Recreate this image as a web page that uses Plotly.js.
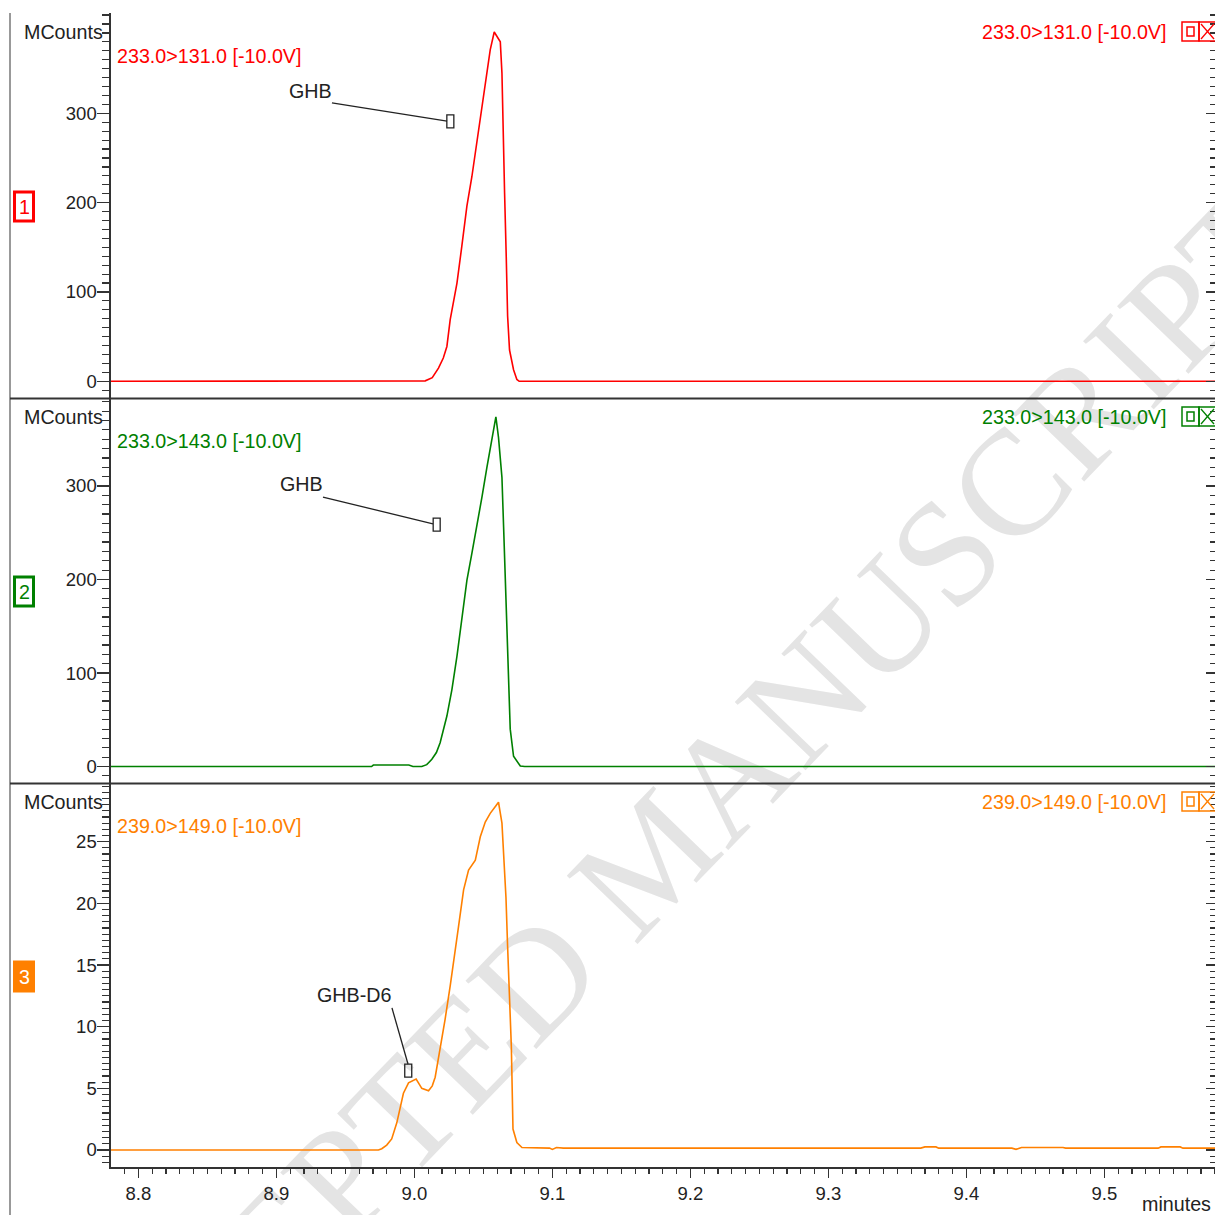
<!DOCTYPE html>
<html>
<head>
<meta charset="utf-8">
<script src="https://cdn.plot.ly/plotly-3.0.1.min.js"></script>
<style>html,body{margin:0;padding:0;background:#fff;}#chart{width:1215px;height:1215px;}</style>
</head>
<body>
<div id="chart"></div>
<script>
// ---------- data ----------
const transitionLabels = ["233.0>131.0 [-10.0V]", "233.0>143.0 [-10.0V]", "239.0>149.0 [-10.0V]"];
const panelNumbers = ["1", "2", "3"];
const peakNames = ["GHB", "GHB", "GHB-D6"];
const yUnit = "MCounts";
const xUnit = "minutes";
const watermark = "ACCEPTED MANUSCRIPT";
const yTicksTop = [0, 100, 200, 300];
const yTicksMid = [0, 100, 200, 300];
const yTicksBottom = [0, 5, 10, 15, 20, 25];

const redTime = [8.7802, 9.0050, 9.0079, 9.0130, 9.0175, 9.0210, 9.0236, 9.0260, 9.0309, 9.0344, 9.0381, 9.0417, 9.0453, 9.0490, 9.0526, 9.0550, 9.0579, 9.0600, 9.0623, 9.0635, 9.0647, 9.0654, 9.0666, 9.0676, 9.0690, 9.0719, 9.0743, 9.0760, 9.5802];
const redCounts = [0, 0, 0.5, 4, 14.8, 26, 39, 69, 110, 151, 196, 229, 267, 308, 349, 371, 391, 386, 380, 345, 278, 211, 140, 73, 35, 13, 2, 0, 0];

const greenTime = [8.7802, 8.9690, 8.9703, 8.9960, 8.9990, 9.0054, 9.0090, 9.0127, 9.0160, 9.0187, 9.0236, 9.0272, 9.0309, 9.0344, 9.0381, 9.0417, 9.0453, 9.0490, 9.0526, 9.0562, 9.0591, 9.0610, 9.0635, 9.0647, 9.0659, 9.0671, 9.0683, 9.0695, 9.0719, 9.0768, 9.0800, 9.5802];
const greenCounts = [0, 0, 1.6, 1.6, 0, 0, 2, 7.8, 15, 25.5, 54, 82, 118, 157, 199, 228, 256, 288, 320, 352, 374, 352, 309, 256, 203, 146, 93, 40, 11, 0.5, 0, 0];

const orangeTime = [8.7802, 8.9740, 8.9764, 8.9800, 8.9836, 8.9873, 8.9921, 8.9958, 9.0013, 9.0054, 9.0103, 9.0130, 9.0151, 9.0187, 9.0223, 9.0260, 9.0296, 9.0320, 9.0357, 9.0393, 9.0442, 9.0478, 9.0514, 9.0550, 9.0590, 9.0610, 9.0635, 9.0652, 9.0664, 9.0676, 9.0690, 9.0703, 9.0715, 9.0743, 9.0780, 9.0980, 9.1000, 9.1030, 9.1080, 9.3670, 9.3700, 9.3780, 9.3800, 9.4330, 9.4360, 9.4400, 9.4700, 9.4720, 9.5390, 9.5410, 9.5550, 9.5570, 9.5802];
const orangeCounts = [0, 0, 0.1, 0.4, 0.9, 2.2, 4.6, 5.45, 5.75, 5.0, 4.8, 5.2, 5.9, 8.1, 10.6, 13.3, 16.0, 18.1, 21.1, 22.7, 23.5, 25.4, 26.6, 27.3, 27.9, 28.2, 26.5, 23.2, 20.5, 16.5, 12.4, 8.4, 1.7, 0.6, 0.2, 0.15, 0.05, 0.2, 0.15, 0.15, 0.25, 0.25, 0.15, 0.15, 0.05, 0.2, 0.2, 0.15, 0.15, 0.25, 0.25, 0.15, 0.15];

// ---------- styling ----------
const W = 1215, H = 1215;
const colors = ["#ff0000", "#008000", "#ff8000"];
const FONT = "Liberation Sans, Arial, sans-serif";
const TXT = 19.7;
const px = v => v / W;
const py = v => 1 - v / H;

const traces = [
  {x: redTime, y: redCounts, xaxis: "x", yaxis: "y", mode: "lines", line: {color: colors[0], width: 1.6}, hoverinfo: "skip"},
  {x: greenTime, y: greenCounts, xaxis: "x", yaxis: "y2", mode: "lines", line: {color: colors[1], width: 1.6}, hoverinfo: "skip"},
  {x: orangeTime, y: orangeCounts, xaxis: "x", yaxis: "y3", mode: "lines", line: {color: colors[2], width: 1.6}, hoverinfo: "skip"},
  {x: [9.0], y: [0], xaxis: "x", yaxis: "y4", mode: "lines", hoverinfo: "skip"},
  {x: [9.0], y: [0], xaxis: "x", yaxis: "y5", mode: "lines", hoverinfo: "skip"},
  {x: [9.0], y: [0], xaxis: "x", yaxis: "y6", mode: "lines", hoverinfo: "skip"}
];

const axCol = "#333";
function leftY(domain, range, tickvals, mdtick) {
  return {domain, range, anchor: "x", tickmode: "array", tickvals, ticktext: tickvals.map(String),
    ticks: "outside", ticklen: 12, tickwidth: 1.5, tickcolor: axCol, ticklabelstandoff: -3,
    minor: {ticks: "outside", ticklen: 7, dtick: mdtick, tick0: 0, tickwidth: 1.2, tickcolor: axCol, showgrid: false},
    showline: true, linecolor: axCol, linewidth: 1.6, showgrid: false, zeroline: false, fixedrange: true,
    tickfont: {family: FONT, size: 18.5, color: "#222"}};
}
function rightY(over, range, tickvals, mdtick) {
  return {overlaying: over, side: "right", anchor: "x", range, tickmode: "array", tickvals,
    ticks: "inside", ticklen: 9, tickwidth: 1.5, tickcolor: axCol,
    minor: {ticks: "inside", ticklen: 5, dtick: mdtick, tick0: 0, tickwidth: 1.2, tickcolor: axCol, showgrid: false},
    showline: false, showgrid: false, zeroline: false, showticklabels: false, fixedrange: true};
}
const r1 = [-18.7, 412.3], r2 = [-17.6, 393], r3 = [-1.38, 29.68];
const d1 = [py(398), py(13)], d2 = [py(783), py(399)], d3 = [py(1167), py(784)];

const shapes = [];
const annotations = [];

// watermark (drawn beneath the traces)
shapes.push({type: "rect", xref: "paper", yref: "paper", x0: px(590), x1: px(690), y0: py(895), y1: py(795),
  line: {width: 0}, fillcolor: "rgba(0,0,0,0)", layer: "below",
  label: {text: watermark, textangle: -46, textposition: "middle center",
    font: {family: "Liberation Serif, DejaVu Serif, serif", size: 150, color: "#e4e4e4"}}});

// frame lines
shapes.push({type: "line", xref: "paper", yref: "paper", x0: px(10), x1: px(10), y0: py(13), y1: py(1215), line: {color: "#777", width: 1.5}});
shapes.push({type: "line", xref: "paper", yref: "paper", x0: px(10), x1: px(1215), y0: py(398.5), y1: py(398.5), line: {color: "#333", width: 2}});
shapes.push({type: "line", xref: "paper", yref: "paper", x0: px(10), x1: px(1215), y0: py(783.5), y1: py(783.5), line: {color: "#333", width: 2}});

const offsets = [0, 385, 770];
offsets.forEach((o, i) => {
  const c = colors[i];
  annotations.push({xref: "paper", yref: "paper", x: px(105), y: py(32 + o), xanchor: "right", yanchor: "middle", showarrow: false,
    text: yUnit, font: {family: FONT, size: TXT, color: "#222"}});
  annotations.push({xref: "paper", yref: "paper", x: px(115), y: py(56 + o), xanchor: "left", yanchor: "middle", showarrow: false,
    text: transitionLabels[i], font: {family: FONT, size: TXT, color: c}});
  annotations.push({xref: "paper", yref: "paper", x: px(1168), y: py(32 + o), xanchor: "right", yanchor: "middle", showarrow: false,
    text: transitionLabels[i], font: {family: FONT, size: TXT, color: c}});
  // panel number box
  const filled = i === 2;
  shapes.push({type: "rect", xref: "paper", yref: "paper", x0: px(14.5), x1: px(33.5), y0: py(192 + o), y1: py(221 + o),
    line: {color: c, width: 3}, fillcolor: filled ? c : "#fff"});
  annotations.push({xref: "paper", yref: "paper", x: px(24), y: py(207 + o), xanchor: "center", yanchor: "middle", showarrow: false,
    text: panelNumbers[i], font: {family: FONT, size: TXT, color: filled ? "#fff" : c}});
  // icons
  shapes.push({type: "rect", xref: "paper", yref: "paper", x0: px(1182), x1: px(1199), y0: py(22 + o), y1: py(41 + o), line: {color: c, width: 1.5}});
  shapes.push({type: "rect", xref: "paper", yref: "paper", x0: px(1187), x1: px(1194), y0: py(27 + o), y1: py(36 + o), line: {color: c, width: 1.5}});
  shapes.push({type: "rect", xref: "paper", yref: "paper", x0: px(1199), x1: px(1216), y0: py(22 + o), y1: py(41 + o), line: {color: c, width: 1.5}});
  shapes.push({type: "line", xref: "paper", yref: "paper", x0: px(1201), x1: px(1214), y0: py(24 + o), y1: py(39 + o), line: {color: c, width: 1.3}});
  shapes.push({type: "line", xref: "paper", yref: "paper", x0: px(1201), x1: px(1214), y0: py(39 + o), y1: py(24 + o), line: {color: c, width: 1.3}});
});

// peak labels with leader lines and marker boxes
const peakLabelPos = [
  {ya: "y", tx: 8.9244, ty: 325, lx0: 8.9403, ly0: 311.6, lx1: 9.0237, ly1: 291.3, bx: 9.0261, by: 291},
  {ya: "y2", tx: 8.9179, ty: 302, lx0: 8.9338, ly0: 288.2, lx1: 9.0135, ly1: 259.4, bx: 9.0162, by: 258.6},
  {ya: "y3", tx: 8.9563, ty: 12.57, lx0: 8.9838, ly0: 11.52, lx1: 8.9954, ly1: 6.97, bx: 8.9956, by: 6.43}
];
peakLabelPos.forEach((p, i) => {
  annotations.push({xref: "x", yref: p.ya, x: p.tx, y: p.ty, xanchor: "center", yanchor: "middle", showarrow: false,
    text: peakNames[i], font: {family: FONT, size: TXT, color: "#222"}});
  shapes.push({type: "line", xref: "x", yref: p.ya, x0: p.lx0, y0: p.ly0, x1: p.lx1, y1: p.ly1, line: {color: "#222", width: 1.3}});
  shapes.push({type: "rect", xref: "x", yref: p.ya, xsizemode: "pixel", ysizemode: "pixel", xanchor: p.bx, yanchor: p.by,
    x0: -3.5, x1: 3.5, y0: -6.5, y1: 6.5, line: {color: "#222", width: 1.3}, fillcolor: "rgba(0,0,0,0)"});
});

annotations.push({xref: "paper", yref: "paper", x: px(1213), y: py(1204), xanchor: "right", yanchor: "middle", showarrow: false,
  text: xUnit, font: {family: FONT, size: TXT, color: "#222"}});

const layout = {
  width: W, height: H, margin: {l: 0, r: 0, t: 0, b: 0, pad: 0},
  paper_bgcolor: "#fff", plot_bgcolor: "rgba(0,0,0,0)", showlegend: false,
  font: {family: FONT, color: "#222"},
  xaxis: {domain: [px(111), 1], anchor: "y3", range: [8.7802, 9.5802], tick0: 8.8, dtick: 0.1, tickformat: ".1f",
    ticks: "outside", ticklen: 9, tickwidth: 1.5, tickcolor: axCol,
    minor: {ticks: "outside", ticklen: 5, dtick: 0.01, tick0: 8.8, tickwidth: 1.2, tickcolor: axCol, showgrid: false},
    showline: true, linecolor: axCol, linewidth: 1.6, showgrid: false, zeroline: false, fixedrange: true,
    tickfont: {family: FONT, size: 18.5, color: "#222"}},
  yaxis: leftY(d1, r1, yTicksTop, 10),
  yaxis2: leftY(d2, r2, yTicksMid, 10),
  yaxis3: leftY(d3, r3, yTicksBottom, 0.5),
  yaxis4: rightY("y", r1, yTicksTop, 10),
  yaxis5: rightY("y2", r2, yTicksMid, 10),
  yaxis6: rightY("y3", r3, yTicksBottom, 0.5),
  shapes, annotations
};

Plotly.newPlot("chart", traces, layout, {staticPlot: true, displayModeBar: false});
</script>
</body>
</html>
